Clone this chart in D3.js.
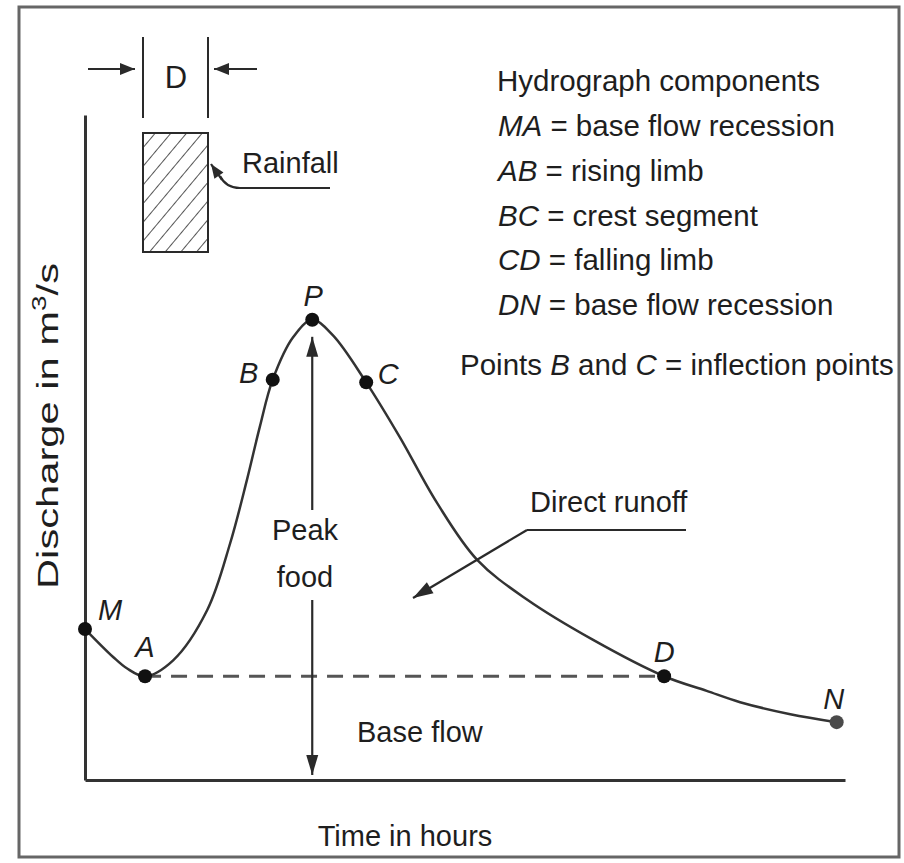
<!DOCTYPE html>
<html>
<head>
<meta charset="utf-8">
<script src="https://cdn.jsdelivr.net/npm/d3@7"></script>
<style>
  html, body { margin: 0; padding: 0; background: #fff; }
  svg { display: block; }
  text { font-family: "Liberation Sans", Arial, Helvetica, sans-serif; fill: #1e1e1e; }
</style>
</head>
<body>
<script>
// ---------- data ----------
const times     = [0, 3.7, 5.5, 7.9, 11.6, 16.1, 19.1, 21.3, 23.0, 24.7, 27.4, 29.9, 32.6, 37.0, 41.4, 46.3, 51.6, 58.2, 66.8, 76.2, 81.8, 86.2, 92.8, 98.9];
const discharge = [22.7, 18.5, 16.8, 15.6, 18.0, 25.6, 35.6, 45.1, 53.1, 60.2, 66.6, 69.2, 66.9, 59.8, 51.6, 41.7, 33.1, 27.1, 21.1, 15.6, 13.4, 11.7, 9.9, 8.7];
const pointNames   = ["M", "A", "B", "P", "C", "D", "N"];
const pointIndex   = [0, 3, 9, 11, 13, 19, 23];
const legendTitle  = "Hydrograph components";
const legendKeys   = ["MA", "AB", "BC", "CD", "DN"];
const legendDescs  = ["base flow recession", "rising limb", "crest segment", "falling limb", "base flow recession"];
const xTitle = "Time in hours";
const yTitle = "Discharge in m";

// ---------- layout ----------
const W = 904, H = 863;
const svg = d3.select("body").append("svg").attr("width", W).attr("height", H);

const x = d3.scaleLinear().domain([0, 100]).range([85, 845]);
const y = d3.scaleLinear().domain([0, 100]).range([780, 115]);

const ink = "#2a2a2a";

// outer frame
svg.append("rect").attr("x", 19).attr("y", 7).attr("width", 880).attr("height", 850)
  .attr("fill", "none").attr("stroke", "#666").attr("stroke-width", 3);

// hatch pattern
const defs = svg.append("defs");
defs.append("pattern").attr("id", "hatch").attr("patternUnits", "userSpaceOnUse")
  .attr("width", 12).attr("height", 12).attr("patternTransform", "rotate(40)")
  .append("line").attr("x1", 0).attr("y1", 0).attr("x2", 0).attr("y2", 12)
  .attr("stroke", ink).attr("stroke-width", 1.6);

// arrow helper
function arrow(pts, opts = {}) {
  const len = opts.len || 18, hw = opts.hw || 6;
  const line = d3.line();
  svg.append("path").attr("d", line(pts)).attr("fill", "none")
    .attr("stroke", opts.color || ink).attr("stroke-width", opts.sw || 2.2);
  const [x2, y2] = pts[pts.length - 1], [x1, y1] = pts[pts.length - 2];
  const a = Math.atan2(y2 - y1, x2 - x1);
  const bx = x2 - len * Math.cos(a), by = y2 - len * Math.sin(a);
  const nx = -Math.sin(a) * hw, ny = Math.cos(a) * hw;
  svg.append("path").attr("d", `M${x2},${y2}L${bx + nx},${by + ny}L${bx - nx},${by - ny}Z`)
    .attr("fill", opts.color || ink);
}

// axes (plain lines, no ticks)
const xAxis = d3.axisBottom(x).tickValues([]).tickSizeOuter(0);
const yAxis = d3.axisLeft(y).tickValues([]).tickSizeOuter(0);
svg.append("g").attr("transform", `translate(0,${y(0)})`).call(xAxis)
  .select(".domain").attr("stroke", "#333").attr("stroke-width", 3);
svg.append("g").attr("transform", `translate(${x(0)},0)`).call(yAxis)
  .select(".domain").attr("stroke", "#333").attr("stroke-width", 3);

// axis titles
svg.append("text").attr("x", 405).attr("y", 846).attr("text-anchor", "middle")
  .attr("font-size", 29).text(xTitle);
const yt = svg.append("text").attr("transform", "translate(58,426) rotate(-90)")
  .attr("text-anchor", "middle").attr("font-size", 30)
  .attr("textLength", 326).attr("lengthAdjust", "spacingAndGlyphs");
yt.append("tspan").text(yTitle);
yt.append("tspan").attr("dy", -12).attr("font-size", 20).text("3");
yt.append("tspan").attr("dy", 12).text("/s");

// rainfall block
svg.append("rect").attr("x", 143).attr("y", 133).attr("width", 65).attr("height", 119)
  .attr("fill", "url(#hatch)").attr("stroke", ink).attr("stroke-width", 2);
svg.append("line").attr("x1", 143).attr("x2", 143).attr("y1", 37).attr("y2", 118).attr("stroke", ink).attr("stroke-width", 2);
svg.append("line").attr("x1", 208).attr("x2", 208).attr("y1", 37).attr("y2", 118).attr("stroke", ink).attr("stroke-width", 2);
arrow([[88, 69], [135, 69]], {len: 15, hw: 6});
arrow([[257, 69], [214, 69]], {len: 15, hw: 6});
svg.append("text").attr("x", 176).attr("y", 88).attr("text-anchor", "middle").attr("font-size", 31).text("D");
svg.append("text").attr("x", 242).attr("y", 173).attr("font-size", 29).text("Rainfall");
svg.append("path").attr("d", "M330,188L240,188Q226,188 220,176").attr("fill", "none")
  .attr("stroke", ink).attr("stroke-width", 2.2);
arrow([[222, 180], [211, 164]], {len: 14, hw: 5.5});

// base flow separation (dashed)
const iA = pointIndex[1], iD = pointIndex[5];
svg.append("line").attr("x1", x(times[iA])).attr("x2", x(times[iD]))
  .attr("y1", y(discharge[iA])).attr("y2", y(discharge[iA]))
  .attr("stroke", "#555").attr("stroke-width", 3).attr("stroke-dasharray", "16,10");

// hydrograph curve
const data = times.map((t, i) => ({t, q: discharge[i]}));
svg.append("path").datum(data)
  .attr("d", d3.line().x(d => x(d.t)).y(d => y(d.q)).curve(d3.curveCatmullRom.alpha(0.5)))
  .attr("fill", "none").attr("stroke", "#333").attr("stroke-width", 2.5);

// peak flood arrows
const iP = pointIndex[3];
const px = x(times[iP]);
arrow([[px, 510], [px, y(discharge[iP]) + 17]], {len: 20, hw: 6});
arrow([[px, 600], [px, y(0) - 5]], {len: 20, hw: 6});
svg.append("text").attr("x", 305).attr("y", 540).attr("text-anchor", "middle").attr("font-size", 29).text("Peak");
svg.append("text").attr("x", 305).attr("y", 587).attr("text-anchor", "middle").attr("font-size", 29).text("food");
svg.append("text").attr("x", 357).attr("y", 742).attr("font-size", 29).text("Base flow");

// direct runoff
svg.append("text").attr("x", 530).attr("y", 512).attr("font-size", 29).text("Direct runoff");
svg.append("path").attr("d", "M686,530L527,530").attr("fill", "none").attr("stroke", ink).attr("stroke-width", 2.2);
arrow([[527, 530], [413, 598]], {len: 20, hw: 6.5});

// points
const pts = pointIndex.map((i, k) => ({name: pointNames[k], t: times[i], q: discharge[i]}));
svg.selectAll("circle.pt").data(pts).join("circle").attr("class", "pt")
  .attr("cx", d => x(d.t)).attr("cy", d => y(d.q)).attr("r", 7)
  .attr("fill", d => d.name === "N" ? "#4a4a4a" : "#111");

// point labels
const labelOffset = {M: [25, -9], A: [0, -19], B: [-24, 3], P: [1, -14], C: [22, 2], D: [0, -14], N: [-3, -13]};
svg.selectAll("text.pl").data(pts).join("text").attr("class", "pl")
  .attr("x", d => x(d.t) + labelOffset[d.name][0])
  .attr("y", d => y(d.q) + labelOffset[d.name][1])
  .attr("text-anchor", "middle").attr("font-size", 29).attr("font-style", "italic")
  .text(d => d.name);

// legend
svg.append("text").attr("x", 497).attr("y", 91).attr("font-size", 29.5).text(legendTitle);
const legendY = [136, 181, 226, 270, 315];
legendKeys.forEach((k, i) => {
  const t = svg.append("text").attr("x", 498).attr("y", legendY[i]).attr("font-size", 29.5);
  t.append("tspan").attr("font-style", "italic").text(k);
  t.append("tspan").text(" = " + legendDescs[i]);
});
const pl = svg.append("text").attr("x", 460).attr("y", 375).attr("font-size", 29.5);
pl.append("tspan").text("Points ");
pl.append("tspan").attr("font-style", "italic").text("B");
pl.append("tspan").text(" and ");
pl.append("tspan").attr("font-style", "italic").text("C");
pl.append("tspan").text(" = inflection points");
</script>
</body>
</html>
